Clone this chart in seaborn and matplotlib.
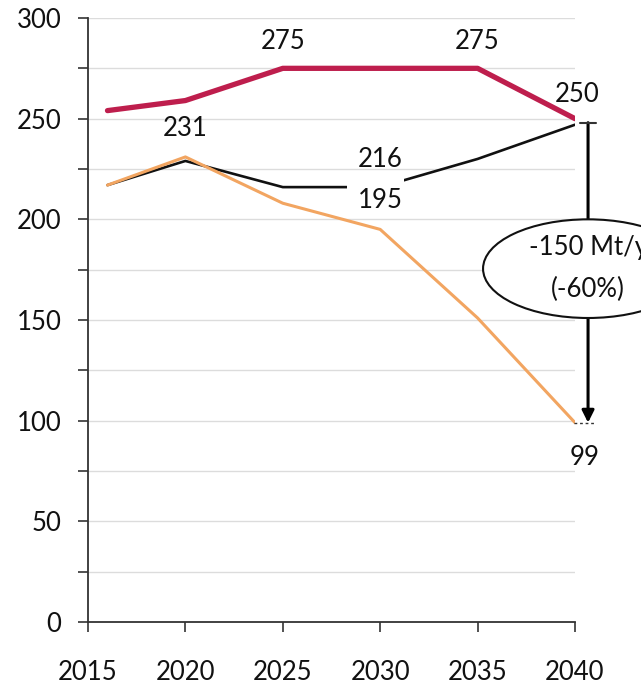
import matplotlib
matplotlib.use("Agg")
import matplotlib.pyplot as plt
from matplotlib.patches import Ellipse, Rectangle
from matplotlib.ticker import MultipleLocator
import seaborn as sns
import pandas as pd

years = [2016, 2020, 2025, 2030, 2035, 2040]
red_vals = [254, 259, 275, 275, 275, 250]
black_vals = [217, 229, 216, 216, 230, 247]
orange_vals = [217, 231, 208, 195, 151, 99]
xticks = [2015, 2020, 2025, 2030, 2035, 2040]
yticks = [0, 50, 100, 150, 200, 250, 300]

sns.set_theme(style="white")
plt.rcParams['font.family'] = ['Lato', 'DejaVu Sans']

fig = plt.figure(figsize=(6.41, 6.90), dpi=100)
ax = fig.add_axes([88/641, 1-622/690, (575-88)/641, (622-18)/690])

df = pd.DataFrame({"year": years, "red": red_vals, "black": black_vals, "orange": orange_vals})

sns.lineplot(data=df, x="year", y="red", ax=ax, color="#BE1E4D", linewidth=3.8, zorder=4)
sns.lineplot(data=df, x="year", y="black", ax=ax, color="#111111", linewidth=1.9, zorder=3)
sns.lineplot(data=df, x="year", y="orange", ax=ax, color="#F2A561", linewidth=2.2, zorder=3)

ax.set_xlim(2015, 2040)
ax.set_ylim(0, 300)
ax.set_xticks(xticks)
ax.set_yticks(yticks)
ax.yaxis.set_minor_locator(MultipleLocator(25))
ax.set_xlabel("")
ax.set_ylabel("")
ax.grid(True, which="both", axis="y", color="#DCDCDC", linewidth=1.0)
ax.set_axisbelow(True)
for s in ["top", "right"]:
    ax.spines[s].set_visible(False)
for s in ["left", "bottom"]:
    ax.spines[s].set_color("#333333")
    ax.spines[s].set_linewidth(1.3)
ax.tick_params(axis="both", which="both", direction="out", length=7, width=1.2,
               color="#333333", labelsize=18.5, labelcolor="#111111")
ax.tick_params(axis="y", which="both", left=True, pad=12)
ax.tick_params(axis="x", bottom=True, pad=20)

fs = 18.5
def lab(x, y, t):
    ax.text(x, y, t, ha="center", va="center", fontsize=fs, color="#111111", clip_on=False, zorder=6)

lab(2025, 288.5, "275")
lab(2035, 288.5, "275")
lab(2040.1, 262, "250")
lab(2020, 245, "231")
lab(2030, 229.5, "216")
lab(2030, 209.5, "195")
lab(2040.5, 81.5, "99")

# white label box gap over the black line near 2030
ax.add_patch(Rectangle((2028.3, 209), 2.9, 13, facecolor="white", edgecolor="none", zorder=3.5))

ax_x = 2040.67
ax.annotate("", xy=(ax_x, 99), xytext=(ax_x, 248),
            arrowprops=dict(arrowstyle="-|>", color="black", lw=2.2, mutation_scale=18,
                            shrinkA=0, shrinkB=0), annotation_clip=False, zorder=5)
ax.plot([ax_x - 0.4, ax_x + 0.4], [248, 248], color="#333333", lw=1.5, clip_on=False, zorder=5)
ax.plot([ax_x - 0.7, ax_x + 0.4], [99, 99], color="#333333", lw=1.0, ls=(0, (2, 2)), clip_on=False, zorder=5)

ell = Ellipse((ax_x, 175.5), width=210/19.48, height=49, facecolor="white",
              edgecolor="#111111", linewidth=1.5, clip_on=False, zorder=7)
ax.add_patch(ell)
ax.text(ax_x, 186, "-150 Mt/y", ha="center", va="center", fontsize=fs, color="#111111",
        clip_on=False, zorder=8)
ax.text(ax_x, 165, "(-60%)", ha="center", va="center", fontsize=fs, color="#111111",
        clip_on=False, zorder=8)

fig.savefig("out.png", dpi=100)
